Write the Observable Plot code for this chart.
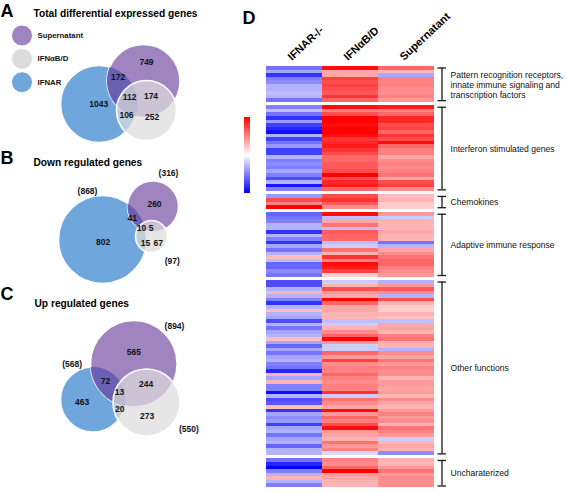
<!DOCTYPE html>
<html><head><meta charset="utf-8">
<script src="https://cdn.jsdelivr.net/npm/d3@7"></script>
<script src="https://cdn.jsdelivr.net/npm/@observablehq/plot@0.6"></script>
<style>
body{margin:0;background:#fff;}
#fig{position:relative;width:567px;height:492px;overflow:hidden;background:#fff}
#fig > svg{position:absolute}
</style></head><body><div id="fig"></div>
<script>
// ---------------- DATA ----------------
const setNames = ["Supernatant", "IFNαB/D", "IFNAR"];
const panelLetters = ["A", "B", "C", "D"];
const panelTitles = ["Total differential expressed genes", "Down regulated genes", "Up regulated genes"];
// regions: S only, S∩R, S∩D∩R, S∩D, R only, R∩D, D only  (S=Supernatant, D=IFNαB/D, R=IFNAR)
const regionKeys = ["S", "SR", "SDR", "SD", "R", "RD", "D"];
const countsTotal = [749, 172, 112, 174, 1043, 106, 252];
const countsDown  = [260, 41, 10, 5, 802, 15, 67];
const countsUp    = [565, 72, 13, 244, 463, 20, 273];
const totalKeys = ["S", "D", "R"];
const totalsDown = [316, 97, 868];
const totalsUp   = [894, 550, 568];

const hmColumns = ["IFNAR-/-", "IFNαB/D", "Supernatant"];
const groupLabels = [
  "Pattern recognition receptors,\ninnate immune signaling and\ntranscription factors",
  "Interferon stimulated genes",
  "Chemokines",
  "Adaptive immune response",
  "Other functions",
  "Uncharaterized"
];
const groupSizes = [10, 24, 4, 18, 49, 8];
const ifnarValues = [
  -0.55,-0.35,-0.8,-0.5,-0.45,-0.3,-0.3,-0.25,-0.3,-0.55,
  -0.5,-0.25,-0.55,-0.8,-0.4,-0.75,-0.85,-0.95,-0.3,-0.75,-0.55,-0.4,-0.75,-0.75,-0.3,-0.5,-0.45,-0.5,-0.35,-0.5,-0.7,-0.3,-0.9,-0.5,
  -0.4,0.7,0.5,1.0,
  -0.6,-0.55,-0.5,-0.3,-0.3,-0.8,-0.3,-0.5,-0.8,-0.35,-0.55,-0.3,0.25,-0.25,-0.6,-0.6,-0.45,-0.55,
  -0.7,-0.7,-0.3,0.3,-0.3,-0.5,-0.8,-0.3,0.25,-0.3,-0.35,-0.7,-0.3,-0.55,-0.35,-0.3,0.25,-0.35,-0.6,-0.35,-0.55,-0.35,-0.3,-0.5,-0.55,-0.85,0.3,-0.35,0.3,-0.5,
  -0.5,-0.95,-0.3,-0.7,-0.65,0.25,-0.8,-0.35,-0.45,-0.4,-0.75,-0.35,-0.3,-0.55,-0.35,-0.3,-0.6,-0.3,-0.3,
  -0.55,-0.85,-1.0,-0.5,-0.3,0.3,-0.3,-0.5
];
const ifnabValues = [
  0.95,0.35,0.35,0.75,0.7,0.75,0.7,0.65,0.8,0.6,
  0.95,0.5,0.7,1.0,1.0,0.95,1.0,1.0,0.95,0.8,0.85,0.9,0.8,0.7,0.6,0.6,0.65,0.65,0.7,1.0,0.7,0.85,0.9,0.6,
  0.7,0.8,0.65,0.45,
  0.95,-0.25,0.35,0.55,-0.25,0.65,0.6,0.6,-0.25,-0.2,0.55,0.3,0.8,0.5,0.95,0.9,0.75,0.2,
  -0.2,0.3,0.7,0.4,0.35,1.0,0.6,0.35,0.35,0.3,0.3,-0.25,-0.2,0.3,0.45,0.6,1.0,0.4,-0.2,-0.2,0.6,0.4,0.75,0.45,0.5,0.5,0.6,0.5,0.45,0.5,
  0.5,0.8,-0.2,0.55,0.45,0.35,0.95,0.4,0.6,0.5,0.7,0.95,0.4,0.35,0.3,0.55,0.4,0.5,-0.15,
  0.5,0.45,0.6,1.0,0.4,0.35,0.3,0.3
];
const supernatantValues = [
  0.6,0.3,-0.35,0.5,0.5,0.5,0.45,0.45,0.5,0.4,
  0.9,0.5,0.6,0.85,0.85,0.7,0.75,0.6,0.8,0.7,0.95,0.6,0.5,0.5,0.35,0.45,0.5,0.45,0.5,0.55,0.35,0.7,0.75,0.45,
  0.25,0.3,0.2,0.2,
  0.4,-0.2,0.3,0.3,0.3,0.35,0.3,0.3,-0.55,-0.3,0.35,0.45,0.55,0.6,0.6,0.5,0.45,0.4,
  -0.3,0.4,0.65,0.45,-0.3,0.7,0.3,0.2,0.2,0.3,0.25,-0.25,0.35,0.35,0.3,0.5,0.55,0.3,0.3,-0.3,0.45,0.35,0.55,0.4,0.5,0.45,0.45,0.3,0.4,0.4,
  0.35,0.4,0.3,0.45,0.35,0.3,0.4,0.5,0.4,0.45,0.3,0.55,0.5,0.4,-0.2,0.3,0.35,0.3,-0.45,
  0.3,0.3,0.4,0.55,0.4,0.45,0.45,0.45
];

// ---------------- LAYOUT (positions / sizes, in figure units) ----------------
const FONT = "Liberation Sans, Arial, Helvetica, sans-serif";
const COLORS = {S: "#a084bf", R: "#6fa6dc", D: "#dcdcdc", SR: "#6a60b3"};
const vennLayout = [
  {counts: countsTotal, totals: null, title: [33, 13.5], letter: [0, 10.5],
   circles: {S: [143, 80.5, 36.5], R: [98.5, 103.5, 38.5], D: [146, 110, 30]},
   labels: {S: [146, 62], SR: [117.7, 76.7], SDR: [129, 96.7], SD: [150.5, 96], R: [98.3, 104], RD: [126, 114.3], D: [151.7, 116.7]},
   totalPos: null},
  {counts: countsDown, totals: totalsDown, title: [33, 162.5], letter: [0, 157.5],
   circles: {S: [152.5, 206, 25.5], R: [102, 239, 44], D: [151, 236, 16]},
   labels: {S: [154, 204], SR: [131.7, 217.3], SDR: [141, 228], SD: [150.7, 227.3], R: [102.7, 241.7], RD: [145, 242.7], D: [157.7, 242.7]},
   totalPos: {S: [168, 173], D: [171.7, 261], R: [87, 190.7]}},
  {counts: countsUp, totals: totalsUp, title: [34, 303], letter: [0, 293.3],
   circles: {S: [133.3, 363.3, 43.3], R: [92.5, 399, 32.5], D: [146, 402, 33.5]},
   labels: {S: [133.3, 351.7], SR: [105, 381], SDR: [119, 391.7], SD: [145.7, 383.3], R: [81.7, 401.7], RD: [119.3, 408.3], D: [146.7, 416]},
   totalPos: {S: [174, 325.7], D: [188.3, 428.3], R: [71.7, 363.3]}}
];
const legendLayout = {x: 21.5, ys: [35, 58.3, 81.7], r: 10.5, tx: 37, keys: ["S", "D", "R"]};

// ---------------- BUILD VENN DATA ----------------
const circles = [], regionLabels = [], totalLabels = [], lensPts = [];
vennLayout.forEach((p, pi) => {
  for (const k of ["S", "R", "D"]) {
    const [x, y, r] = p.circles[k];
    circles.push({panel: pi, set: k, x, y, r});
  }
  regionKeys.forEach((k, i) => regionLabels.push({x: p.labels[k][0], y: p.labels[k][1], text: String(p.counts[i])}));
  if (p.totals) totalKeys.forEach((k, i) => totalLabels.push({x: p.totalPos[k][0], y: p.totalPos[k][1], text: `(${p.totals[i]})`}));
  // lens S∩R computed from circle geometry
  const [x1, y1, r1] = p.circles.S, [x2, y2, r2] = p.circles.R;
  const d = Math.hypot(x2 - x1, y2 - y1);
  const a = (r1 * r1 - r2 * r2 + d * d) / (2 * d);
  const phi = Math.atan2(y2 - y1, x2 - x1);
  const al1 = Math.acos(a / r1), al2 = Math.acos((d - a) / r2);
  const pts = [];
  const N = 40;
  for (let i = 0; i <= N; i++) { const t = phi - al1 + 2 * al1 * i / N; pts.push([x1 + r1 * Math.cos(t), y1 + r1 * Math.sin(t)]); }
  for (let i = 0; i <= N; i++) { const t = phi + Math.PI - al2 + 2 * al2 * i / N; pts.push([x2 + r2 * Math.cos(t), y2 + r2 * Math.sin(t)]); }
  const cx = d3.mean(pts, q => q[0]), cy = d3.mean(pts, q => q[1]);
  pts.sort((u, v) => Math.atan2(u[1] - cy, u[0] - cx) - Math.atan2(v[1] - cy, v[0] - cx));
  pts.forEach(q => lensPts.push({panel: pi, x: q[0], y: q[1]}));
});
const legendItems = legendLayout.keys.map((k, i) => ({x: legendLayout.x, y: legendLayout.ys[i], r: legendLayout.r, tx: legendLayout.tx, key: k, text: setNames[i]}));
const titleItems = vennLayout.map((p, i) => ({x: p.title[0], y: p.title[1], text: panelTitles[i]}));
const letterItems = vennLayout.map((p, i) => ({x: p.letter[0], y: p.letter[1], text: panelLetters[i]}));

const fig = document.getElementById("fig");
const dotStyle = {x: "x", y: "y", r: "r", stroke: "#ffffff", strokeWidth: 1.6, strokeOpacity: 0.95};
const left = Plot.plot({
  width: 205, height: 492, margin: 0,
  x: {domain: [0, 205], range: [0, 205], axis: null},
  y: {domain: [0, 492], range: [0, 492], axis: null},
  r: {type: "identity"},
  style: {fontFamily: FONT, color: "#000", background: "transparent"},
  marks: [
    Plot.dot(circles.filter(d => d.set === "R"), {...dotStyle, fill: COLORS.R}),
    Plot.dot(circles.filter(d => d.set === "S"), {...dotStyle, fill: COLORS.S}),
    Plot.line(lensPts, {x: "x", y: "y", z: "panel", fill: COLORS.SR, stroke: "none", curve: "linear-closed"}),
    Plot.dot(circles.filter(d => d.set === "D"), {...dotStyle, fill: COLORS.D, fillOpacity: 0.72}),
    Plot.text(regionLabels, {x: "x", y: "y", text: "text", fontSize: 8.5, fontWeight: "bold", fill: "#111"}),
    Plot.text(totalLabels, {x: "x", y: "y", text: "text", fontSize: 8.5, fontWeight: "bold", fill: "#111"}),
    Plot.dot(legendItems, {x: "x", y: "y", r: "r", fill: d => COLORS[d.key], stroke: "#fff", strokeWidth: 1}),
    Plot.text(legendItems, {x: "tx", y: "y", text: "text", textAnchor: "start", fontSize: 7.8, fontWeight: "bold", fill: "#111"}),
    Plot.text(titleItems, {x: "x", y: "y", text: "text", textAnchor: "start", fontSize: 10.2, fontWeight: "bold"}),
    Plot.text(letterItems, {x: "x", y: "y", text: "text", textAnchor: "start", fontSize: 18, fontWeight: "bold"})
  ]
});
left.style.left = "0px"; left.style.top = "0px";
fig.appendChild(left);

// ---------------- HEATMAP ----------------
const colorScale = {type: "linear", domain: [-1, 0, 1], range: ["#0000ff", "#ffffff", "#ff0000"], interpolate: "rgb"};
const colValues = [ifnarValues, ifnabValues, supernatantValues];
const cells = [], groups = [];
let slot = 0, idx = 0;
groupSizes.forEach((n, g) => {
  groups.push({label: groupLabels[g], start: slot, end: slot + n});
  for (let i = 0; i < n; i++, idx++, slot++) colValues.forEach((arr, c) => cells.push({col: c, slot, v: arr[idx]}));
  slot += 1;
});
const nSlots = slot - 1;

const heat = Plot.plot({
  width: 362, height: 492, marginTop: 66, marginBottom: 5, marginLeft: 61, marginRight: 133,
  x: {domain: [0, hmColumns.length], axis: null},
  y: {domain: [0, nSlots], reverse: true, axis: null},
  color: colorScale,
  style: {fontFamily: FONT, color: "#000", background: "transparent"},
  marks: [
    Plot.rect(cells, {x1: "col", x2: d => d.col + 1, y1: "slot", y2: d => d.slot + 1, fill: "v", shapeRendering: "crispEdges"}),
    Plot.text(hmColumns, {x: (d, i) => i + 0.5, y: () => 0, text: d => d, rotate: -43, textAnchor: "start", dx: -5, dy: -8, fontSize: 11, fontWeight: "bold"}),
    Plot.ruleX(groups, {x: () => hmColumns.length, y1: "start", y2: "end", dx: 7.5, insetTop: 1.5, insetBottom: 1.5, stroke: "#1a1a1a", strokeWidth: 1.3}),
    Plot.ruleY(groups, {y: "start", x1: () => hmColumns.length, x2: () => hmColumns.length, insetLeft: 3.5, insetRight: -12, dy: 1.5, stroke: "#1a1a1a", strokeWidth: 1.3}),
    Plot.ruleY(groups, {y: "end", x1: () => hmColumns.length, x2: () => hmColumns.length, insetLeft: 3.5, insetRight: -12, dy: -1.5, stroke: "#1a1a1a", strokeWidth: 1.3}),
    Plot.text(groups, {x: () => hmColumns.length, y: d => (d.start + d.end) / 2, text: "label", dx: 16, textAnchor: "start", fontSize: 8.6, lineHeight: 1.17, fill: "#111"}),
    Plot.text([panelLetters[3]], {frameAnchor: "top-left", text: d => d, dx: -24, dy: -55, textAnchor: "start", fontSize: 18, fontWeight: "bold"})
  ]
});
heat.style.left = "205px"; heat.style.top = "0px";
fig.appendChild(heat);

// ---------------- COLOR BAR ----------------
const rampStops = d3.range(-1, 1, 0.02);
const bar = Plot.plot({
  width: 6, height: 76, margin: 0,
  x: {domain: [0, 1], axis: null},
  y: {domain: [-1, 1], axis: null},
  color: colorScale,
  style: {background: "transparent"},
  marks: [Plot.rect(rampStops, {x1: () => 0, x2: () => 1, y1: d => d, y2: d => d + 0.02, fill: d => d + 0.01, shapeRendering: "crispEdges"})]
});
bar.style.left = "244px"; bar.style.top = "117px";
fig.appendChild(bar);
</script></body></html>
